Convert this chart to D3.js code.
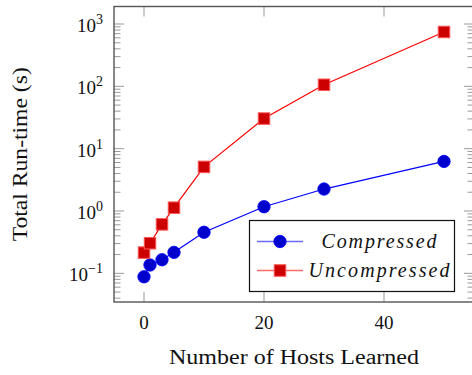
<!DOCTYPE html>
<html>
<head>
<meta charset="utf-8">
<script src="https://cdn.jsdelivr.net/npm/d3@7/dist/d3.min.js"></script>
<style>
  html, body { margin: 0; padding: 0; background: #fff; }
  svg { display: block; }
  text { font-family: "Liberation Serif", "Times New Roman", serif; fill: #111; }
</style>
</head>
<body>
<svg id="chart" width="472" height="375"></svg>
<script>
// ---- data ----
const hosts = [0, 1, 3, 5, 10, 20, 30, 50];
const compressed = [0.088, 0.136, 0.165, 0.217, 0.456, 1.17, 2.25, 6.24];
const uncompressed = [0.215, 0.304, 0.61, 1.13, 5.1, 30.4, 106, 745];
const seriesNames = ["Compressed", "Uncompressed"];
const xTickValues = [0, 20, 40];
const yTickExponents = [-1, 0, 1, 2, 3];
const xDomain = [-5, 55];
const yDomain = [Math.pow(10, -1.46), Math.pow(10, 3.281)];

// ---- layout ----
const svg = d3.select("#chart");
const L = 114, R = 474, T = 6.5, B = 302;
const x = d3.scaleLinear().domain(xDomain).range([L, R]);
const y = d3.scaleLog().domain(yDomain).range([B, T]);

const tickCol = "#9a9a9a", axisCol = "#555";
const majorLen = 10, minorLen = 6.5;

const g = svg.append("g");

// minor y ticks (left & right, inside)
const minorVals = [];
for (let e = -2; e <= 3; e++) for (let m = 2; m <= 9; m++) {
  const v = m * Math.pow(10, e);
  if (v > yDomain[0] && v < yDomain[1]) minorVals.push(v);
}
const majorVals = yTickExponents.map(e => Math.pow(10, e));

[[L, 1], [R, -1]].forEach(([x0, dir]) => {
  g.selectAll(null).data(minorVals).enter().append("line")
    .attr("x1", x0).attr("x2", x0 + dir * minorLen)
    .attr("y1", d => y(d)).attr("y2", d => y(d))
    .attr("stroke", tickCol).attr("stroke-width", 1);
  g.selectAll(null).data(majorVals).enter().append("line")
    .attr("x1", x0).attr("x2", x0 + dir * majorLen)
    .attr("y1", d => y(d)).attr("y2", d => y(d))
    .attr("stroke", tickCol).attr("stroke-width", 1);
});
// x ticks top & bottom, inside
[[B, -1], [T, 1]].forEach(([y0, dir]) => {
  g.selectAll(null).data(xTickValues).enter().append("line")
    .attr("x1", d => x(d)).attr("x2", d => x(d))
    .attr("y1", y0).attr("y2", y0 + dir * majorLen)
    .attr("stroke", tickCol).attr("stroke-width", 1);
});

// frame
g.append("rect").attr("x", L).attr("y", T).attr("width", R - L).attr("height", B - T)
  .attr("fill", "none").attr("stroke", axisCol).attr("stroke-width", 1.4);

// y tick labels
const yl = g.selectAll(null).data(yTickExponents).enter().append("text")
  .attr("x", 103).attr("y", d => y(Math.pow(10, d)) + 8)
  .attr("text-anchor", "end").style("font-size", "19px");
yl.append("tspan").text("10");
yl.append("tspan").attr("dy", -8).style("font-size", "14px")
  .text(d => d < 0 ? "\u2212" + Math.abs(d) : String(d));

// x tick labels
g.selectAll(null).data(xTickValues).enter().append("text")
  .attr("x", d => x(d)).attr("y", 329)
  .attr("text-anchor", "middle").style("font-size", "19px")
  .text(d => d);

// axis titles
g.append("text").attr("x", (L + R) / 2).attr("y", 364)
  .attr("text-anchor", "middle").style("font-size", "20px")
  .attr("textLength", 250).attr("lengthAdjust", "spacingAndGlyphs")
  .text("Number of Hosts Learned");
g.append("text").attr("transform", `translate(27,${(T + B) / 2}) rotate(-90)`)
  .attr("text-anchor", "middle").style("font-size", "20px")
  .attr("textLength", 174).attr("lengthAdjust", "spacingAndGlyphs")
  .text("Total Run-time (s)");

// series
const series = [
  { name: seriesNames[0], vals: compressed, line: "#0000ff", fill: "#0000cc", stroke: "#0000ff", shape: "circle", legendLine: "#6b6bff" },
  { name: seriesNames[1], vals: uncompressed, line: "#ff0000", fill: "#cc0000", stroke: "#ff5555", shape: "square", legendLine: "#ff6b6b" }
];
const lineGen = d3.line().x(d => x(d[0])).y(d => y(d[1]));
const sq = 11.5, cr = 6.2;

function drawMarker(sel, s, cx, cy) {
  if (s.shape === "circle") {
    sel.append("circle").attr("cx", cx).attr("cy", cy).attr("r", cr)
      .attr("fill", s.fill).attr("stroke", s.stroke).attr("stroke-width", 0.8);
  } else {
    sel.append("rect").attr("x", cx - sq / 2).attr("y", cy - sq / 2)
      .attr("width", sq).attr("height", sq)
      .attr("fill", s.fill).attr("stroke", s.stroke).attr("stroke-width", 1);
  }
}

series.forEach(s => {
  const pts = hosts.map((h, i) => [h, s.vals[i]]);
  g.append("path").attr("d", lineGen(pts)).attr("fill", "none")
    .attr("stroke", s.line).attr("stroke-width", 1.2);
  const mg = g.append("g");
  pts.forEach(p => drawMarker(mg, s, x(p[0]), y(p[1])));
});

// legend
const lg = g.append("g");
lg.append("rect").attr("x", 249.5).attr("y", 220.5).attr("width", 205).attr("height", 71)
  .attr("fill", "#fff").attr("stroke", "#111").attr("stroke-width", 1.2);
const rowsY = [241.5, 270.5];
const textLens = [115, 141];
series.forEach((s, i) => {
  const yy = rowsY[i];
  lg.append("line").attr("x1", 257).attr("x2", 303).attr("y1", yy).attr("y2", yy)
    .attr("stroke", s.legendLine).attr("stroke-width", 1.4);
  drawMarker(lg, s, 280, yy);
  lg.append("text").attr("x", 379).attr("y", yy + 6.5)
    .attr("text-anchor", "middle").style("font-size", "20px").style("font-style", "italic")
    .attr("textLength", textLens[i]).attr("lengthAdjust", "spacing")
    .text(s.name);
});
</script>
</body>
</html>
